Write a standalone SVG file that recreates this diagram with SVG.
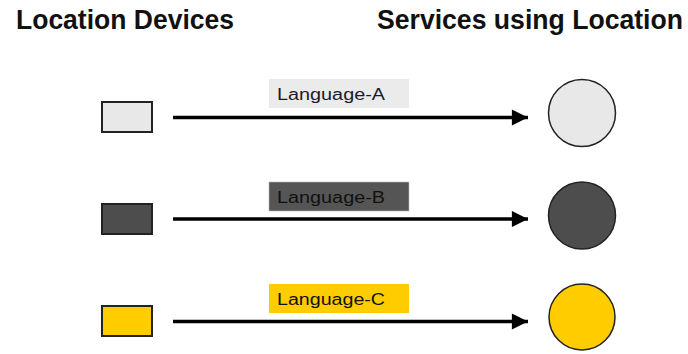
<svg xmlns="http://www.w3.org/2000/svg" width="688" height="354" viewBox="0 0 688 354">
<style>
.hdr{font-family:"Liberation Sans",Arial,sans-serif;font-weight:bold;font-size:27px;fill:#111}
.lbl{font-family:"Liberation Sans",Arial,sans-serif;font-size:16px;fill:#1a1a2a}
.dev{stroke:#222;stroke-width:2}
.svc{stroke:#222;stroke-width:1.5}
.conn{stroke:#000;stroke-width:3.5;fill:none}
</style>
<defs>
<marker id="ah" viewBox="0 0 10 10" refX="10" refY="5" markerWidth="5" markerHeight="4.6" orient="auto" markerUnits="strokeWidth">
<path d="M0,0 L10,5 L0,10 z" fill="#000"/>
</marker>
</defs>
<text class="hdr" x="16" y="29" textLength="218" lengthAdjust="spacingAndGlyphs">Location Devices</text>
<text class="hdr" x="377" y="29" textLength="306" lengthAdjust="spacingAndGlyphs">Services using Location</text>
<g id="devA"><rect class="dev" x="102" y="102" width="50" height="30" fill="#e8e8e8"/></g>
<g id="devB"><rect class="dev" x="102" y="204" width="50" height="30" fill="#4d4d4d"/></g>
<g id="devC"><rect class="dev" x="102" y="306" width="50" height="30" fill="#ffcc00"/></g>
<g id="svcA"><circle class="svc" cx="582" cy="113" r="33.5" fill="#e8e8e8"/></g>
<g id="svcB"><circle class="svc" cx="582" cy="215.5" r="33.5" fill="#4d4d4d"/></g>
<g id="svcC"><circle class="svc" cx="582" cy="317" r="33" fill="#ffcc00"/></g>
<g id="connectors">
<line class="conn" x1="173" y1="117.5" x2="528" y2="117.5" marker-end="url(#ah)"/>
<line class="conn" x1="173" y1="219" x2="528" y2="219" marker-end="url(#ah)"/>
<line class="conn" x1="173" y1="321.5" x2="528" y2="321.5" marker-end="url(#ah)"/>
<g id="labelA"><rect x="269" y="79" width="140" height="29" fill="#ebebeb"/><text class="lbl" x="277" y="100" textLength="108" lengthAdjust="spacingAndGlyphs">Language-A</text></g>
<g id="labelB"><rect x="269" y="182" width="140" height="29" fill="#555" stroke="#bbb" stroke-width="0.6"/><text class="lbl" x="277" y="203" textLength="108" lengthAdjust="spacingAndGlyphs" style="fill:#111">Language-B</text></g>
<g id="labelC"><rect x="269" y="284" width="140" height="29" fill="#ffcc00"/><text class="lbl" x="277" y="305" textLength="108" lengthAdjust="spacingAndGlyphs" style="fill:#111">Language-C</text></g>
</g>
</svg>
